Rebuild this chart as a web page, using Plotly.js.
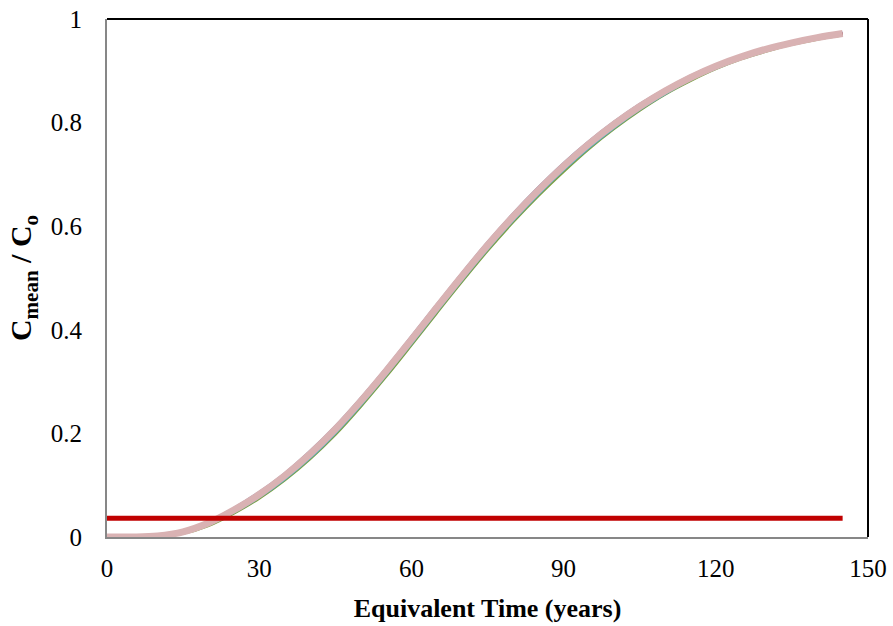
<!DOCTYPE html>
<html>
<head>
<meta charset="utf-8">
<script src="https://cdn.plot.ly/plotly-3.0.1.min.js"></script>
<style>html,body{margin:0;padding:0;background:#fff;}#chart{width:893px;height:626px;}</style>
</head>
<body>
<div id="chart"></div>
<script>
// Equivalent time (years)
var time = [0, 5, 10, 15, 20, 25, 30, 35, 40, 45, 50, 55, 60, 65, 70, 75, 80, 85, 90, 95, 100, 105, 110, 115, 120, 125, 130, 135, 140, 145];
// C_mean / C_o, several overlapping model series
var seriesPink  = [0, 0, 0.002, 0.010, 0.027, 0.052, 0.082, 0.118, 0.160, 0.208, 0.262, 0.320, 0.381, 0.443, 0.504, 0.563, 0.618, 0.669, 0.716, 0.759, 0.797, 0.831, 0.861, 0.887, 0.909, 0.927, 0.942, 0.954, 0.964, 0.972];
var seriesBlue  = [0, 0, 0.002, 0.011, 0.029, 0.055, 0.086, 0.122, 0.165, 0.213, 0.267, 0.325, 0.386, 0.448, 0.509, 0.568, 0.623, 0.674, 0.721, 0.763, 0.801, 0.835, 0.864, 0.890, 0.911, 0.929, 0.944, 0.955, 0.965, 0.973];
var seriesRed   = [0, 0, 0.002, 0.010, 0.028, 0.053, 0.084, 0.120, 0.162, 0.210, 0.264, 0.322, 0.383, 0.445, 0.506, 0.565, 0.620, 0.671, 0.718, 0.761, 0.799, 0.833, 0.862, 0.888, 0.910, 0.928, 0.943, 0.954, 0.964, 0.972];
var seriesTeal  = [0, 0, 0.001, 0.008, 0.024, 0.048, 0.077, 0.112, 0.153, 0.201, 0.255, 0.313, 0.374, 0.436, 0.497, 0.556, 0.611, 0.662, 0.709, 0.752, 0.791, 0.826, 0.856, 0.883, 0.905, 0.924, 0.939, 0.952, 0.962, 0.970];
var seriesGreen = [0, 0, 0.001, 0.007, 0.022, 0.046, 0.075, 0.110, 0.151, 0.198, 0.252, 0.310, 0.371, 0.433, 0.494, 0.553, 0.608, 0.659, 0.706, 0.750, 0.789, 0.824, 0.855, 0.881, 0.904, 0.923, 0.938, 0.951, 0.961, 0.969];
// Limit line
var limitTime = [0, 145];
var limitValue = [0.036, 0.036];

var xTicks = [0, 30, 60, 90, 120, 150];
var xTickLabels = ['0', '30', '60', '90', '120', '150'];
var yTicks = [0, 0.2, 0.4, 0.6, 0.8, 1];
var yTickLabels = ['0', '0.2', '0.4', '0.6', '0.8', '1'];

function line(y, color, width) {
  return {x: time, y: y, type: 'scatter', mode: 'lines',
    line: {color: color, width: width, shape: 'spline', smoothing: 1}, hoverinfo: 'skip', showlegend: false};
}

var traces = [
  line(seriesGreen, '#7F9F3F', 3),
  line(seriesTeal, '#4BACC6', 3),
  line(seriesBlue, '#4F6FAF', 3),
  line(seriesRed, '#C0504D', 3),
  line(seriesPink, '#D9B2B3', 7),
  {x: limitTime, y: limitValue, type: 'scatter', mode: 'lines',
   line: {color: '#C00000', width: 5}, hoverinfo: 'skip', showlegend: false}
];

var layout = {
  width: 893, height: 626,
  margin: {l: 107, r: 25, t: 19, b: 89},
  paper_bgcolor: '#ffffff', plot_bgcolor: '#ffffff',
  font: {family: '"Liberation Serif", "Times New Roman", serif', color: '#000', size: 25},
  xaxis: {
    range: [0, 150], tickvals: xTicks, ticktext: xTickLabels,
    showgrid: false, zeroline: false, showline: true, linecolor: '#878787', linewidth: 2,
    ticks: '', ticklabelstandoff: 8,
    title: {text: '<b>Equivalent Time (years)</b>', font: {size: 26}, standoff: 18}
  },
  yaxis: {
    range: [0, 1], tickvals: yTicks, ticktext: yTickLabels,
    showgrid: false, zeroline: false, showline: true, linecolor: '#878787', linewidth: 2,
    ticks: '', ticklabelstandoff: 18,
    title: {text: '<b>C<sub>mean</sub> / C<sub>o</sub></b>', font: {size: 30}, standoff: 10}
  },
  shapes: [
    {type: 'line', xref: 'paper', yref: 'paper', x0: 0, x1: 1, y0: 1, y1: 1, line: {color: '#000', width: 2}},
    {type: 'line', xref: 'paper', yref: 'paper', x0: 1, x1: 1, y0: 0, y1: 1, line: {color: '#000', width: 2}}
  ]
};

Plotly.newPlot('chart', traces, layout, {displayModeBar: false, staticPlot: true});
</script>
</body>
</html>
